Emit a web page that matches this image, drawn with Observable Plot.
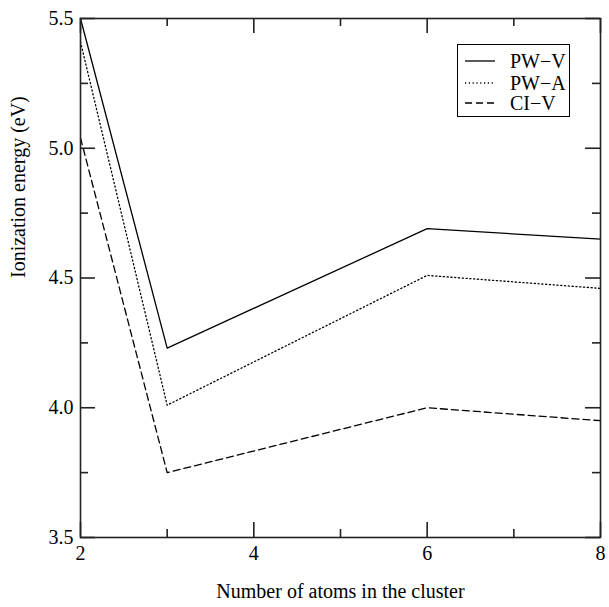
<!DOCTYPE html>
<html><head><meta charset="utf-8">
<script src="https://cdn.jsdelivr.net/npm/d3@7"></script>
<script src="https://cdn.jsdelivr.net/npm/@observablehq/plot@0.6"></script>
<style>
body{margin:0;background:#fff;}
#wrap{position:relative;width:609px;height:607px;}
#legend{position:absolute;left:457px;top:44px;width:111px;height:71px;border:1px solid #000;background:#fff;font-family:"Liberation Serif",serif;font-size:20px;color:#000;}
.row{position:absolute;left:0;height:22px;width:111px;}
.row svg{position:absolute;left:6px;top:0;}
.row span{position:absolute;left:52px;top:0;line-height:22px;}
</style></head>
<body><div id="wrap"><div id="legend"></div></div>
<script>
const atoms = [2, 3, 6, 8];
const pwV = [5.50, 4.23, 4.69, 4.65];
const pwA = [5.41, 4.01, 4.51, 4.46];
const ciV = [5.04, 3.75, 4.00, 3.95];
const seriesNames = ["PW−V", "PW−A", "CI−V"];
const seriesDash = [null, "1.2,2.6", "7,4"];
const xTicks = [2, 4, 6, 8];
const xMinor = [3, 5, 7];
const yTicks = [3.5, 4.0, 4.5, 5.0, 5.5];
const yMinor = [3.75, 4.25, 4.75, 5.25];
const xTitle = "Number of atoms in the cluster";
const yTitle = "Ionization energy (eV)";

const seriesValues = [pwV, pwA, ciV];
const rows = seriesNames.flatMap((s, i) => atoms.map((a, j) => ({atoms: a, value: seriesValues[i][j], series: s})));

const W = 609, H = 607, mL = 80, mR = 9, mT = 18, mB = 70;
const fw = W - mL - mR, fh = H - mT - mB;
const major = 15, minor = 8;
const ink = "#222";
const lines = seriesNames.map((s, i) => Plot.line(rows.filter(r => r.series === s), {
  x: "atoms", y: "value", stroke: "#000", strokeWidth: 1.3,
  strokeDasharray: seriesDash[i] ?? undefined
}));

const tickStyle = {stroke: ink, strokeWidth: 1.6};
const chart = Plot.plot({
  width: W, height: H,
  marginLeft: mL, marginRight: mR, marginTop: mT, marginBottom: mB,
  style: {fontFamily: "Liberation Serif, serif", fontSize: "20px", color: "#000", background: "#fff"},
  x: {domain: [2, 8]},
  y: {domain: [3.5, 5.5]},
  marks: [
    ...lines,
    Plot.frame({stroke: ink, strokeWidth: 1.6}),
    Plot.tickX(xTicks, {x: d => d, insetTop: fh - major, ...tickStyle}),
    Plot.tickX(xMinor, {x: d => d, insetTop: fh - minor, ...tickStyle}),
    Plot.tickX(xTicks, {x: d => d, insetBottom: fh - major, ...tickStyle}),
    Plot.tickX(xMinor, {x: d => d, insetBottom: fh - minor, ...tickStyle}),
    Plot.tickY(yTicks, {y: d => d, insetRight: fw - major, ...tickStyle}),
    Plot.tickY(yMinor, {y: d => d, insetRight: fw - minor, ...tickStyle}),
    Plot.tickY(yTicks, {y: d => d, insetLeft: fw - major, ...tickStyle}),
    Plot.tickY(yMinor, {y: d => d, insetLeft: fw - minor, ...tickStyle}),
    Plot.axisX(xTicks, {anchor: "bottom", tickSize: 0, tickPadding: 8, fontSize: 20, label: null, tickFormat: d => String(d), fill: "#000"}),
    Plot.axisY(yTicks, {anchor: "left", tickSize: 0, tickPadding: 7, fontSize: 20, label: null, tickFormat: d3.format(".1f"), fill: "#000"}),
    Plot.text([xTitle], {text: d => d, frameAnchor: "bottom", dy: 60, fontSize: 20, fill: "#000"}),
    Plot.text([yTitle], {text: d => d, frameAnchor: "left", rotate: -90, dx: -62, fontSize: 20, fill: "#000"})
  ]
});
document.getElementById("wrap").prepend(chart);

const legend = document.getElementById("legend");
const rowTops = [5, 27, 47];
seriesNames.forEach((s, i) => {
  const row = document.createElement("div");
  row.className = "row";
  row.style.top = rowTops[i] + "px";
  row.innerHTML = `<svg width="32" height="22"><line x1="1" x2="31" y1="11" y2="11" stroke="#000" stroke-width="1.3" ${seriesDash[i] ? `stroke-dasharray="${seriesDash[i]}"` : ""}/></svg><span>${s}</span>`;
  legend.appendChild(row);
});
</script>
</body></html>
